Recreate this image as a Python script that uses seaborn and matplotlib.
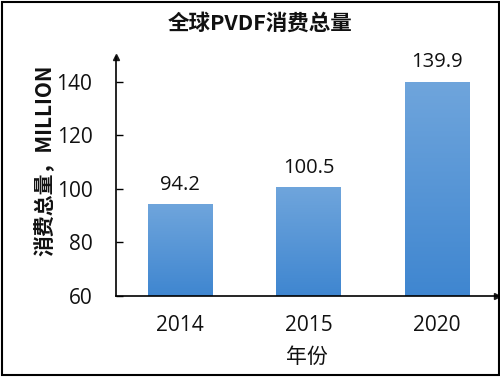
import numpy as np
import pandas as pd
import seaborn as sns
import matplotlib.pyplot as plt
from matplotlib.patches import Rectangle

years = ["2014", "2015", "2020"]
consumption = [94.2, 100.5, 139.9]
yticks = [60, 80, 100, 120, 140]

df = pd.DataFrame({"year": years, "value": consumption})

sns.set_theme(style="white")
plt.rcParams["font.family"] = ["Open Sans", "Noto Sans CJK SC", "DejaVu Sans"]
plt.rcParams["text.color"] = "#111111"
plt.rcParams["xtick.color"] = "#111111"
plt.rcParams["ytick.color"] = "#111111"
plt.rcParams["axes.labelcolor"] = "#111111"

fig = plt.figure(figsize=(5, 3.77), dpi=100)
ax = fig.add_axes([0.232, 0.215, 0.762, 0.634])

sns.barplot(data=df, x="year", y="value", color="#5b9bd5", width=0.5,
            saturation=1, ax=ax)

ymin, ymax = 60, 149.3
ax.set_ylim(ymin, ymax)

# gradient fill inside each bar (only the visible part, above ymin)
grad = np.linspace(0, 1, 256).reshape(-1, 1)
cmap = sns.blend_palette(["#3f86d0", "#6fa5dc"], as_cmap=True)
for patch in ax.patches:
    x0, w = patch.get_x(), patch.get_width()
    top = patch.get_y() + patch.get_height()
    img = ax.imshow(grad, extent=[x0, x0 + w, ymin, top], origin="lower",
                    cmap=cmap, aspect="auto", zorder=patch.get_zorder())
    patch.set_visible(False)

ax.set_xlim(-0.5, 2.47)
ax.set_ylim(ymin, ymax)
ax.set_xticks(range(len(years)), years)
ax.set_yticks(yticks)
ax.tick_params(axis="y", direction="in", length=5, width=1, color="black",
               labelsize=15, pad=17, left=True)
ax.tick_params(axis="x", length=0, labelsize=15, pad=14, labelbottom=True)

for i, v in enumerate(consumption):
    ax.annotate(f"{v}", (i, v), xytext=(0, 7), textcoords="offset points",
                ha="center", va="bottom", fontsize=14.5)

for side in ["top", "right"]:
    ax.spines[side].set_visible(False)
for side in ["left", "bottom"]:
    ax.spines[side].set_color("black")
    ax.spines[side].set_linewidth(1.2)

# arrow heads on axes
ax.plot(1, 0, ">k", markersize=4, transform=ax.transAxes, clip_on=False)
ax.plot(0, 1, "^k", markersize=4, transform=ax.transAxes, clip_on=False)

ax.set_xlabel("年份", fontsize=15, labelpad=7,
              family=["Noto Sans CJK SC", "DejaVu Sans"])
ax.set_ylabel("")
fig.text(0.09, 0.575, "消费总量，MILLION", rotation=90, ha="center", va="center",
         fontsize=15, fontweight="bold", family=["Noto Sans CJK SC", "DejaVu Sans"])
fig.text(0.52, 0.939, "全球PVDF消费总量", ha="center", va="center", fontsize=15.5,
         fontweight="bold", family=["Noto Sans CJK SC", "DejaVu Sans"])

fig.patches.append(Rectangle((0.003, 0.004), 0.994, 0.992, transform=fig.transFigure,
                             fill=False, edgecolor="black", linewidth=1.5))

fig.savefig("out.png", dpi=100)
